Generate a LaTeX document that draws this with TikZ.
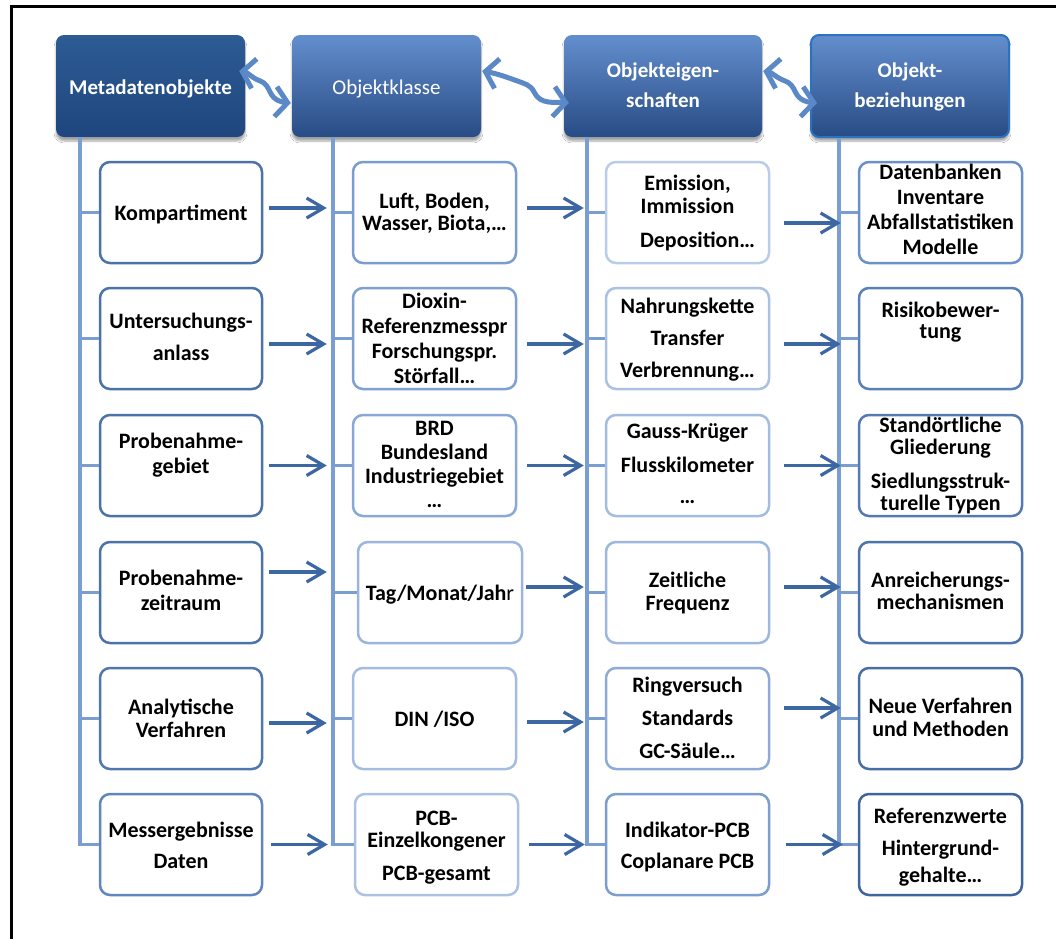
\documentclass[tikz,border=0pt]{standalone}
\usepackage{fontspec}
\setmainfont{Carlito}
\usetikzlibrary{arrows.meta,shadows.blur,calc}

% connector and header colours
\definecolor{trunkc}{HTML}{7B9ED2}
\definecolor{arrc}{HTML}{3D67A2}
\definecolor{wavec}{HTML}{5B88C7}
\definecolor{hdarkT}{HTML}{2D5B94}
\definecolor{hdarkB}{HTML}{1F467E}
\definecolor{hlightT}{HTML}{638ECD}
\definecolor{hlightB}{HTML}{284C85}
\definecolor{hedge}{HTML}{2A73C2}
% box outline colours (row, column)
\definecolor{e11}{HTML}{4C73A9}\definecolor{e21}{HTML}{4C73A9}\definecolor{e31}{HTML}{4C73A9}
\definecolor{e41}{HTML}{4C73A9}\definecolor{e51}{HTML}{5078AE}\definecolor{e61}{HTML}{6186BF}
\definecolor{e12}{HTML}{7A9DD1}\definecolor{e22}{HTML}{7FA0D2}\definecolor{e32}{HTML}{88A8D7}
\definecolor{e42}{HTML}{9BB5DC}\definecolor{e52}{HTML}{A3BCE0}\definecolor{e62}{HTML}{ABC2E3}
\definecolor{e13}{HTML}{B9CCE8}\definecolor{e23}{HTML}{AAC1E2}\definecolor{e33}{HTML}{A4BCE0}
\definecolor{e43}{HTML}{9DB7DD}\definecolor{e53}{HTML}{8EABD7}\definecolor{e63}{HTML}{7B9DD0}
\definecolor{e14}{HTML}{6A90C8}\definecolor{e24}{HTML}{5A80BA}\definecolor{e34}{HTML}{5479B3}
\definecolor{e44}{HTML}{4D73AC}\definecolor{e54}{HTML}{486EA6}\definecolor{e64}{HTML}{3F659D}

\tikzset{
  header/.style={rounded corners=8pt, minimum height=102pt, inner sep=0pt,
    blur shadow={shadow xshift=0pt, shadow yshift=-4pt, shadow opacity=35, shadow blur steps=6}},
  hdark/.style={header, top color=hdarkT, bottom color=hdarkB},
  hlight/.style={header, top color=hlightT, bottom color=hlightB},
  htext/.style={text=white, font=\fontsize{21}{25}\selectfont\bfseries, align=center,
    inner sep=0pt, execute at begin node=\strut, execute at end node=\strut},
  item/.style={draw=#1, line width=2.5pt, rounded corners=10pt, fill=white,
    minimum width=163pt, minimum height=101pt, inner sep=0pt},
  itext/.style={font=\fontsize{22}{25}\selectfont\bfseries, align=center,
    inner sep=0pt, execute at begin node=\strut, execute at end node=\strut},
  trunk/.style={draw=trunkc, line width=3.2pt},
  arr/.style={draw=arrc, line width=3.2pt, -{Straight Barb[length=17pt,width=20pt]}},
  wavetip/.tip={Straight Barb[length=12pt,width=30pt,line width=5pt]},
  wave/.style={draw=wavec, line width=5pt, line cap=round, wavetip-wavetip},
}

\begin{document}
\begin{tikzpicture}[x=1pt,y=1pt]
\useasboundingbox (0,0) rectangle (1056,-938);
\fill[white] (0,0) rectangle (1056,-938);

% outer frame (top and left edge)
\draw[line width=3pt, line cap=rect] (11,-938) -- (11,-6) -- (1056,-6);

% column headers
\node[hdark, minimum width=189pt] (h1) at (150.5,-86) {};
\node[hlight, minimum width=189pt] (h2) at (386.5,-86) {};
\node[hlight, minimum width=198pt] (h3) at (663,-86) {};
\node[hlight, minimum width=198pt, draw=hedge, line width=2pt] (h4) at (910,-86) {};
\node[htext] (ht1) at (150.5,-89) {Metadatenobjekte};
\node[htext] (ht2) at (386.5,-89) {\mdseries Objektklasse};
\node[htext] (ht3) at (663,-89) {Objekteigen-\\[5pt]schaften};
\node[htext] (ht4) at (910,-89) {Objekt-\\[5pt]beziehungen};

% boxes, column 1
\node[item=e11, minimum width=162pt] (b11) at (181,-212.5) {};
\node[item=e21, minimum width=162pt] (b21) at (181,-338.5) {};
\node[item=e31, minimum width=162pt] (b31) at (181,-465.5) {};
\node[item=e41, minimum width=162pt] (b41) at (181,-592.5) {};
\node[item=e51, minimum width=162pt] (b51) at (181,-718.5) {};
\node[item=e61, minimum width=162pt] (b61) at (181,-844.5) {};
% column 2
\node[item=e12] (b12) at (434.5,-212.5) {};
\node[item=e22] (b22) at (434.5,-338.5) {};
\node[item=e32] (b32) at (434.5,-465.5) {};
\node[item=e42, minimum width=164pt] (b42) at (440,-592.5) {};
\node[item=e52] (b52) at (434.5,-718.5) {};
\node[item=e62] (b62) at (436.5,-844.5) {};
% column 3
\node[item=e13] (b13) at (687.5,-212.5) {};
\node[item=e23] (b23) at (687.5,-338.5) {};
\node[item=e33] (b33) at (687.5,-465.5) {};
\node[item=e43] (b43) at (687.5,-592.5) {};
\node[item=e53] (b53) at (687.5,-718.5) {};
\node[item=e63] (b63) at (687.5,-844.5) {};
% column 4
\node[item=e14] (b14) at (940.5,-212.5) {};
\node[item=e24] (b24) at (940.5,-338.5) {};
\node[item=e34] (b34) at (940.5,-465.5) {};
\node[item=e44] (b44) at (940.5,-592.5) {};
\node[item=e54] (b54) at (940.5,-718.5) {};
\node[item=e64] (b64) at (940.5,-844.5) {};

% box texts
\node[itext] (t11) at (181,-215) {Kompartiment};
\node[itext] (t21) at (181,-341) {Untersuchungs-\\[7pt]anlass};
\node[itext] (t31) at (181,-457.5) {Probenahme-\\gebiet};
\node[itext] (t41) at (181,-594.5) {Probenahme-\\zeitraum};
\node[itext] (t51) at (181,-721.5) {Analytische\\[-2pt]Verfahren};
\node[itext] (t61) at (181,-849.5) {Messergebnisse\\[6pt]Daten};

\node[itext] (t12) at (434.5,-216) {Luft, Boden,\\[-3pt]Wasser, Biota,…};
\node[itext] (t22) at (434.5,-342.5) {Dioxin-\\Referenzmesspr\\Forschungspr.\\Störfall…};
\node[itext] (t32) at (434.5,-468) {BRD\\[-1pt]Bundesland\\[-1pt]Industriegebiet\\[-1pt]…};
\node[itext] (t42) at (440,-595) {Tag/Monat/Jah{\mdseries r}};
\node[itext] (t52) at (434.5,-721) {DIN /ISO};
\node[itext] (t62) at (436.5,-849.5) {PCB-\\[-3pt]Einzelkongener\\[8pt]PCB-gesamt};

\node[itext] (t13) at (687.5,-215.5) {Emission,\\[-2pt]Immission\\[9pt]\hspace*{20pt}Deposition…};
\node[itext] (t23) at (687.5,-342) {Nahrungskette\\[7pt]Transfer\\[7pt]Verbrennung…};
\node[itext] (t33) at (687.5,-467.5) {Gauss-Krüger\\[9pt]Flusskilometer\\[6pt]…};
\node[itext] (t43) at (687.5,-595) {Zeitliche\\[-2pt]Frequenz};
\node[itext] (t53) at (687.5,-721.5) {Ringversuch\\[8pt]Standards\\[8pt]GC-Säule…};
\node[itext] (t63) at (687.5,-849.5) {Indikator-PCB\\[6pt]Coplanare PCB};

\node[itext] (t14) at (940.5,-213) {Datenbanken\\Inventare\\Abfallstatistiken\\Modelle};
\node[itext] (t24) at (940.5,-324.5) {Risikobewer-\\[-4pt]tung};
\node[itext] (t34) at (940.5,-468) {Standörtliche\\[-3pt]Gliederung\\[9pt]Siedlungsstruk-\\[-3pt]turelle Typen};
\node[itext] (t44) at (940.5,-595) {Anreicherungs-\\[-3pt]mechanismen};
\node[itext] (t54) at (940.5,-721.5) {Neue Verfahren\\[-2pt]und Methoden};
\node[itext] (t64) at (940.5,-849.5) {Referenzwerte\\[7pt]Hintergrund-\\[2pt]gehalte…};

% vertical trunks with their branches
\coordinate (k1) at (80,-844.5);
\coordinate (k2) at (333,-844.5);
\coordinate (k3) at (587,-844.5);
\coordinate (k4) at (839,-844.5);
\draw[trunk] (h1.south -| k1) -- (k1) -- (b61.west);
\draw[trunk] (h2.south -| k2) -- (k2) -- (b62.west);
\draw[trunk] (h3.south -| k3) -- (k3) -- (b63.west);
\draw[trunk] (h4.south -| k4) -- (k4) -- (b64.west);
\foreach \r in {1,...,5}{
  \draw[trunk] (k1 |- b\r1.west) -- (b\r1.west);
  \draw[trunk] (k2 |- b\r2.west) -- (b\r2.west);
  \draw[trunk] (k3 |- b\r3.west) -- (b\r3.west);
  \draw[trunk] (k4 |- b\r4.west) -- (b\r4.west);
}

% arrows between neighbouring columns
\draw[arr] ([xshift=6pt,yshift=4.5pt]b11.east) -- ([xshift=-25pt,yshift=4.5pt]b12.west);
\draw[arr] ([xshift=10pt,yshift=4.5pt]b12.east) -- ([xshift=-21pt,yshift=4.5pt]b13.west);
\draw[arr] ([xshift=14pt,yshift=-10.5pt]b13.east) -- ([xshift=-17pt,yshift=-10.5pt]b14.west);

\draw[arr] ([xshift=6pt,yshift=-5.5pt]b21.east) -- ([xshift=-25pt,yshift=-5.5pt]b22.west);
\draw[arr] ([xshift=10pt,yshift=-5.5pt]b22.east) -- ([xshift=-21pt,yshift=-5.5pt]b23.west);
\draw[arr] ([xshift=14pt,yshift=-5.5pt]b23.east) -- ([xshift=-17pt,yshift=-5.5pt]b24.west);

\draw[arr] ([xshift=6pt]b31.east) -- ([xshift=-25pt]b32.west);
\draw[arr] ([xshift=10pt]b32.east) -- ([xshift=-21pt]b33.west);
\draw[arr] ([xshift=14pt]b33.east) -- ([xshift=-17pt]b34.west);

\draw[arr] ([xshift=6pt,yshift=20.5pt]b41.east) -- ([xshift=-30pt,yshift=20.5pt]b42.west);
\draw[arr] ([xshift=3pt,yshift=5.5pt]b42.east) -- ([xshift=-21pt,yshift=5.5pt]b43.west);
\draw[arr] ([xshift=14pt,yshift=5.5pt]b43.east) -- ([xshift=-17pt,yshift=5.5pt]b44.west);

\draw[arr] ([xshift=6pt,yshift=-4.5pt]b51.east) -- ([xshift=-25pt,yshift=-4.5pt]b52.west);
\draw[arr] ([xshift=10pt,yshift=-3.5pt]b52.east) -- ([xshift=-21pt,yshift=-3.5pt]b53.west);
\draw[arr] ([xshift=14pt,yshift=10.5pt]b53.east) -- ([xshift=-17pt,yshift=10.5pt]b54.west);

\draw[arr] ([xshift=8pt]b61.east) -- ([xshift=-26pt]b62.west);
\draw[arr] ([xshift=10pt]b62.east) -- ([xshift=-20pt]b63.west);
\draw[arr] ([xshift=16pt]b63.east) -- ([xshift=-15pt]b64.west);

% wavy two-way arrows between the headers
\coordinate (wa1) at ([xshift=-6pt,yshift=15pt]h1.east);
\coordinate (wb1) at ([xshift=-1pt,yshift=-17pt]h2.west);
\coordinate (wa2) at ([xshift=1pt,yshift=15pt]h2.east);
\coordinate (wb2) at ([xshift=5pt,yshift=-17pt]h3.west);
\coordinate (wa3) at ([xshift=1pt,yshift=15pt]h3.east);
\coordinate (wb3) at ([xshift=7pt,yshift=-17pt]h4.west);
\foreach \i in {1,2,3}{
  \draw[wave] (wa\i) to[out=-10,in=160] ($(wa\i)!0.4!(wb\i)+(0,3)$)
                     to[out=-20,in=115] ($(wa\i)!0.6!(wb\i)+(0,-2)$)
                     to[out=-65,in=175] (wb\i);
}
\end{tikzpicture}
\end{document}
